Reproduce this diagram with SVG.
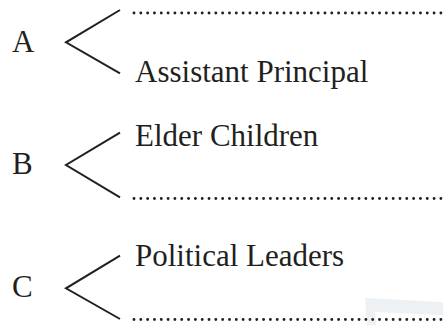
<svg xmlns="http://www.w3.org/2000/svg" width="443" height="325" viewBox="0 0 443 325">
  <style>
    .t { font-family: "Liberation Serif", "Times New Roman", serif; font-size: 31px; fill: #231f20; }
    .ln { stroke: #231f20; stroke-width: 2; fill: none; stroke-linecap: butt; }
    .dots { stroke: #231f20; stroke-width: 2.9; stroke-linecap: round; stroke-dasharray: 0 6.82; fill: none; }
  </style>
  <rect width="443" height="325" fill="#ffffff"/>
  <path d="M365,298 L443,302 L443,325 L367,325 Z M375,312 L443,315 L443,325 L376,325 Z" fill="#eef1f4" fill-rule="evenodd"/>

  <g id="nodeA">
    <text class="t" x="12" y="52">A</text>
  </g>
  <g id="nodeA1">
    <line class="dots" x1="134" y1="13" x2="441" y2="13"/>
  </g>
  <g id="nodeA2">
    <text class="t" x="135" y="81.5">Assistant Principal</text>
  </g>

  <g id="nodeB">
    <text class="t" x="12" y="174">B</text>
  </g>
  <g id="nodeB1">
    <text class="t" x="135" y="146">Elder Children</text>
  </g>
  <g id="nodeB2">
    <line class="dots" x1="134" y1="198.5" x2="441" y2="198.5"/>
  </g>

  <g id="nodeC">
    <text class="t" x="12" y="297">C</text>
  </g>
  <g id="nodeC1">
    <text class="t" x="135" y="266">Political Leaders</text>
  </g>
  <g id="nodeC2">
    <line class="dots" x1="134" y1="319.5" x2="441" y2="319.5"/>
  </g>

  <g id="connectors">
    <polyline class="ln" points="120,10 66,42.3 120,73.3"/>
    <polyline class="ln" points="120,132.7 66,165 120,197.3"/>
    <polyline class="ln" points="120,255.7 66,288.3 120,319"/>
  </g>
</svg>
